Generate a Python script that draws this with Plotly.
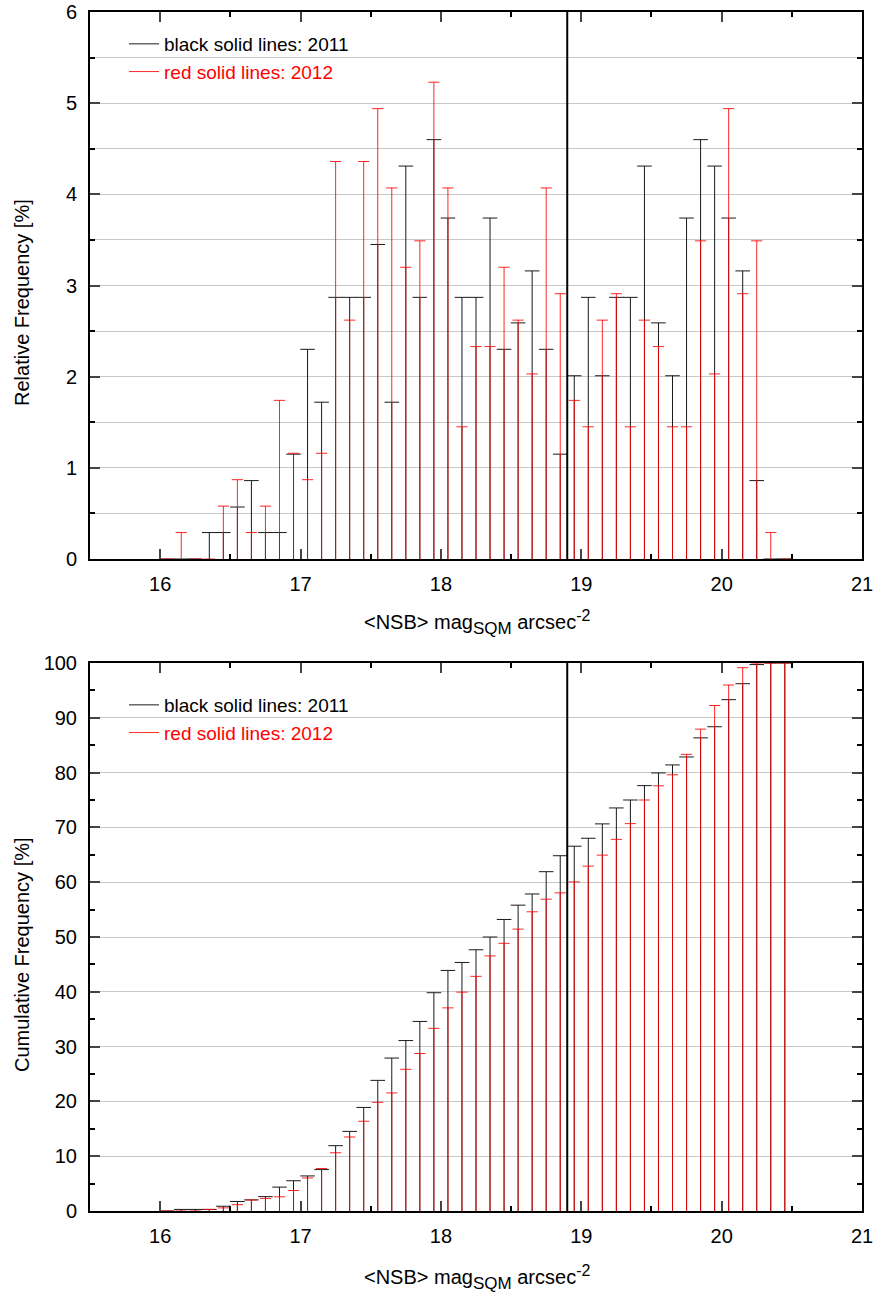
import plotly.graph_objects as go

# ---------------- data ----------------
mag_bins = [16.05, 16.15, 16.25, 16.35, 16.45, 16.55, 16.65, 16.75, 16.85, 16.95,
            17.05, 17.15, 17.25, 17.35, 17.45, 17.55, 17.65, 17.75, 17.85, 17.95,
            18.05, 18.15, 18.25, 18.35, 18.45, 18.55, 18.65, 18.75, 18.85, 18.95,
            19.05, 19.15, 19.25, 19.35, 19.45, 19.55, 19.65, 19.75, 19.85, 19.95,
            20.05, 20.15, 20.25, 20.35, 20.45]

# relative frequency [%] (top panel)
rel_black_2011 = [0, 0, 0, 0.29, 0.29, 0.57, 0.86, 0.29, 0.29, 1.15,
                  2.30, 1.72, 2.87, 2.87, 2.87, 3.45, 1.72, 4.31, 2.87, 4.60,
                  3.74, 2.87, 2.87, 3.74, 2.30, 2.59, 3.16, 2.30, 1.15, 2.01,
                  2.87, 2.01, 2.87, 2.87, 4.31, 2.59, 2.01, 3.74, 4.60, 4.31,
                  3.74, 3.16, 0.86, 0, 0]
rel_red_2012 = [0, 0.29, 0, 0, 0.58, 0.87, 0.29, 0.58, 1.74, 1.16,
                0.87, 1.16, 4.36, 2.62, 4.36, 4.94, 4.07, 3.20, 3.49, 5.23,
                4.07, 1.45, 2.33, 2.33, 3.20, 2.62, 2.03, 4.07, 2.91, 1.74,
                1.45, 2.62, 2.91, 1.45, 2.62, 2.33, 1.45, 1.45, 3.49, 2.03,
                4.94, 2.91, 3.49, 0.29, 0]

# cumulative frequency [%] (bottom panel)
cum_black = [0, 0.29, 0.29, 0.29, 0.87, 1.74, 2.03, 2.62, 4.36, 5.52,
             6.40, 7.56, 11.92, 14.53, 18.90, 23.84, 27.91, 31.10, 34.59, 39.83,
             43.90, 45.35, 47.67, 50.00, 53.20, 55.81, 57.85, 61.92, 64.83, 66.57,
             68.02, 70.64, 73.55, 75.00, 77.62, 79.94, 81.40, 82.85, 86.34, 88.37,
             93.31, 96.22, 99.71, 100, 100]
cum_red = [0, 0, 0, 0.29, 0.57, 1.15, 2.01, 2.30, 2.59, 3.74,
           6.03, 7.76, 10.63, 13.51, 16.38, 19.83, 21.55, 25.86, 28.74, 33.33,
           37.07, 39.94, 42.82, 46.55, 48.85, 51.44, 54.60, 56.90, 58.05, 60.06,
           62.93, 64.94, 67.82, 70.69, 75.00, 77.59, 79.60, 83.33, 87.93, 92.24,
           95.98, 99.14, 100, 100, 100]

legend_names = ["black solid lines: 2011", "red solid lines: 2012"]
y_titles = ["Relative Frequency [%]", "Cumulative Frequency [%]"]
x_title = ('&lt;NSB&gt; mag<sub><span style="font-size:17px">SQM</span></sub> '
           'arcsec<sup><span style="font-size:16px">-2</span></sup>')
marker_line_x = 18.9
x_ticks = [16, 17, 18, 19, 20, 21]

# ---------------- helpers ----------------
FONT = "Liberation Sans, Arial, sans-serif"
W, H = 876, 1295


def drop_segments(xs, vals, half):
    px, py = [], []
    for xv, v in zip(xs, vals):
        px += [xv, xv, None, xv - half, xv + half, None]
        py += [0, v, None, v, v, None]
    return px, py


def py_(pix):
    return 1 - pix / H


fig = go.Figure()

panels = [
    (rel_black_2011, rel_red_2012, "x", "y", "legend"),
    (cum_black, cum_red, "x2", "y2", "legend2"),
]
for blk, red, xa, ya, lg in panels:
    bx, by = drop_segments(mag_bins, blk, 0.052)
    fig.add_trace(go.Scatter(x=bx, y=by, mode="lines", xaxis=xa, yaxis=ya,
                             line=dict(color="#1a1a1a", width=1),
                             name=legend_names[0], legend=lg, hoverinfo="skip"))
    rx, ry = drop_segments(mag_bins, red, 0.04)
    fig.add_trace(go.Scatter(x=rx, y=ry, mode="lines", xaxis=xa, yaxis=ya,
                             line=dict(color="rgba(255,0,0,0.85)", width=1),
                             name='<span style="color:#ff0000">' + legend_names[1] + '</span>',
                             legend=lg, hoverinfo="skip"))

xdom = [90 / W, 862 / W]
top_dom = [py_(559), py_(12)]
bot_dom = [py_(1211), py_(663)]

common_x = dict(range=[15.5, 21], tickvals=x_ticks, ticks="inside", ticklen=10, tickwidth=2,
                showline=True, linewidth=2, linecolor="black", mirror="ticks",
                showgrid=False, zeroline=False, domain=xdom, automargin=False,
                tickfont=dict(size=20, color="black"),
                ticklabelstandoff=6,
                minor=dict(dtick=0.5, ticks="inside", ticklen=5, tickwidth=2, tickcolor="black",
                           showgrid=False))

common_y = dict(ticks="inside", ticklen=10, tickwidth=2,
                showline=True, linewidth=2, linecolor="black", mirror="ticks",
                showgrid=True, gridcolor="#c8c8c8", gridwidth=1, zeroline=False,
                automargin=False,
                tickfont=dict(size=20, color="black"), ticklabelstandoff=7)

fig.update_layout(
    width=W, height=H,
    margin=dict(l=0, r=0, t=0, b=0),
    paper_bgcolor="white", plot_bgcolor="white",
    font=dict(family=FONT, color="black"),
    xaxis=dict(common_x, anchor="y"),
    xaxis2=dict(common_x, anchor="y2"),
    yaxis=dict(common_y, domain=top_dom, anchor="x", range=[0, 6], dtick=1,
               minor=dict(dtick=0.5, ticks="inside", ticklen=5, tickwidth=2, tickcolor="black",
                          showgrid=True, gridcolor="#c8c8c8", gridwidth=1)),
    yaxis2=dict(common_y, domain=bot_dom, anchor="x2", range=[0, 100], dtick=10,
                minor=dict(dtick=5, ticks="inside", ticklen=5, tickwidth=2, tickcolor="black",
                           showgrid=False)),
    legend=dict(x=124 / W, y=py_(25), xanchor="left", yanchor="top",
                bgcolor="rgba(0,0,0,0)", font=dict(size=19, color="black"),
                itemwidth=30, tracegroupgap=0),
    legend2=dict(x=124 / W, y=py_(686), xanchor="left", yanchor="top",
                 bgcolor="rgba(0,0,0,0)", font=dict(size=19, color="black"),
                 itemwidth=30, tracegroupgap=0),
    showlegend=True,
)

# axis titles
fig.add_annotation(text=y_titles[0], xref="paper", yref="paper", x=22 / W, y=py_(303),
                   textangle=-90, showarrow=False, font=dict(size=20, color="black"),
                   xanchor="center", yanchor="middle")
fig.add_annotation(text=y_titles[1], xref="paper", yref="paper", x=22 / W, y=py_(955),
                   textangle=-90, showarrow=False, font=dict(size=20, color="black"),
                   xanchor="center", yanchor="middle")
for ypix in (622, 1277):
    fig.add_annotation(text=x_title, xref="paper", yref="paper", x=477 / W, y=py_(ypix),
                       showarrow=False, font=dict(size=20, color="black"),
                       xanchor="center", yanchor="middle")

for xr, yr in [("x", "y domain"), ("x2", "y2 domain")]:
    fig.add_shape(type="line", xref=xr, yref=yr, x0=marker_line_x, x1=marker_line_x,
                  y0=0, y1=1, line=dict(color="black", width=2))

fig.write_html("out.html")
